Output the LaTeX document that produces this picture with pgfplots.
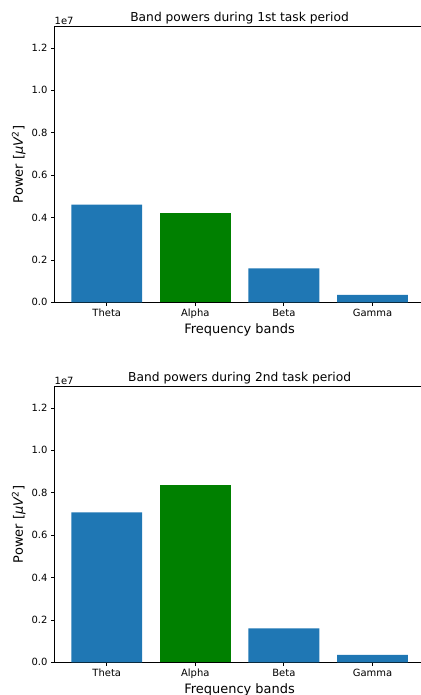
\documentclass[border=0pt]{standalone}
\usepackage{pgfplots}
\pgfplotsset{compat=1.18}
\usepackage{fontspec}
\setmainfont{DejaVu Sans}
\definecolor{mplblue}{HTML}{1F77B4}
\definecolor{mplgreen}{HTML}{008000}
\pgfplotsset{
  every axis title shift=0pt,
  bandstyle/.style={
    scale only axis, width=370.2bp, height=275.6bp,
    xmin=-0.59, xmax=3.59, ymin=0, ymax=1.3,
    xtick={0,1,2,3}, xticklabels={Theta,Alpha,Beta,Gamma},
    ytick={0,0.2,0.4,0.6,0.8,1.0,1.2},
    /pgf/number format/assume math mode=true,
    yticklabel style={/pgf/number format/fixed, /pgf/number format/fixed zerofill, /pgf/number format/precision=1},
    tick align=outside, major tick length=3.5bp,
    xtick pos=left, ytick pos=left,
    tick style={black, line width=0.8bp},
    axis line style={black, line width=0.8bp},
    tick label style={font=\fontsize{10}{12}\selectfont},
    bar shift=0pt, bar width=0.8,
    clip=false,
    title style={at={(axis description cs:0.5,1)}, anchor=base, yshift=5.2bp, inner sep=0pt, font=\fontsize{12.3}{14}\selectfont},
    xlabel style={at={(axis description cs:0.5,0)}, anchor=base, yshift=-31.2bp, inner sep=0pt, font=\fontsize{13}{15}\selectfont},
    ylabel style={at={(axis description cs:-0.0851,0.5)}, anchor=base, inner sep=0pt, font=\fontsize{13}{15}\selectfont},
    xlabel={Frequency bands},
    ylabel={Power [\textit{μV}\textsuperscript{2}]},
  }
}
\begin{document}
\begin{tikzpicture}
\begin{axis}[bandstyle, at={(54.5bp,-26.7bp)}, anchor=north west,
  title={Band powers during 1st task period}]
\addplot[ybar, fill=mplblue, draw=none] coordinates {(0,0.4607) (2,0.1604) (3,0.0346)};
\addplot[ybar, fill=mplgreen, draw=none] coordinates {(1,0.4198)};
\node[anchor=base west, inner sep=0pt, font=\fontsize{10}{12}\selectfont] at (rel axis cs:0,1) [yshift=2.7bp] {1e7};
\end{axis}
\begin{axis}[bandstyle, at={(54.5bp,-386.7bp)}, anchor=north west,
  title={Band powers during 2nd task period}]
\addplot[ybar, fill=mplblue, draw=none] coordinates {(0,0.7075) (2,0.1604) (3,0.0346)};
\addplot[ybar, fill=mplgreen, draw=none] coordinates {(1,0.8350)};
\node[anchor=base west, inner sep=0pt, font=\fontsize{10}{12}\selectfont] at (rel axis cs:0,1) [yshift=2.7bp] {1e7};
\end{axis}
\pgfresetboundingbox
\path[use as bounding box] (0,0) rectangle (421bp,-695bp);
\end{tikzpicture}
\end{document}
